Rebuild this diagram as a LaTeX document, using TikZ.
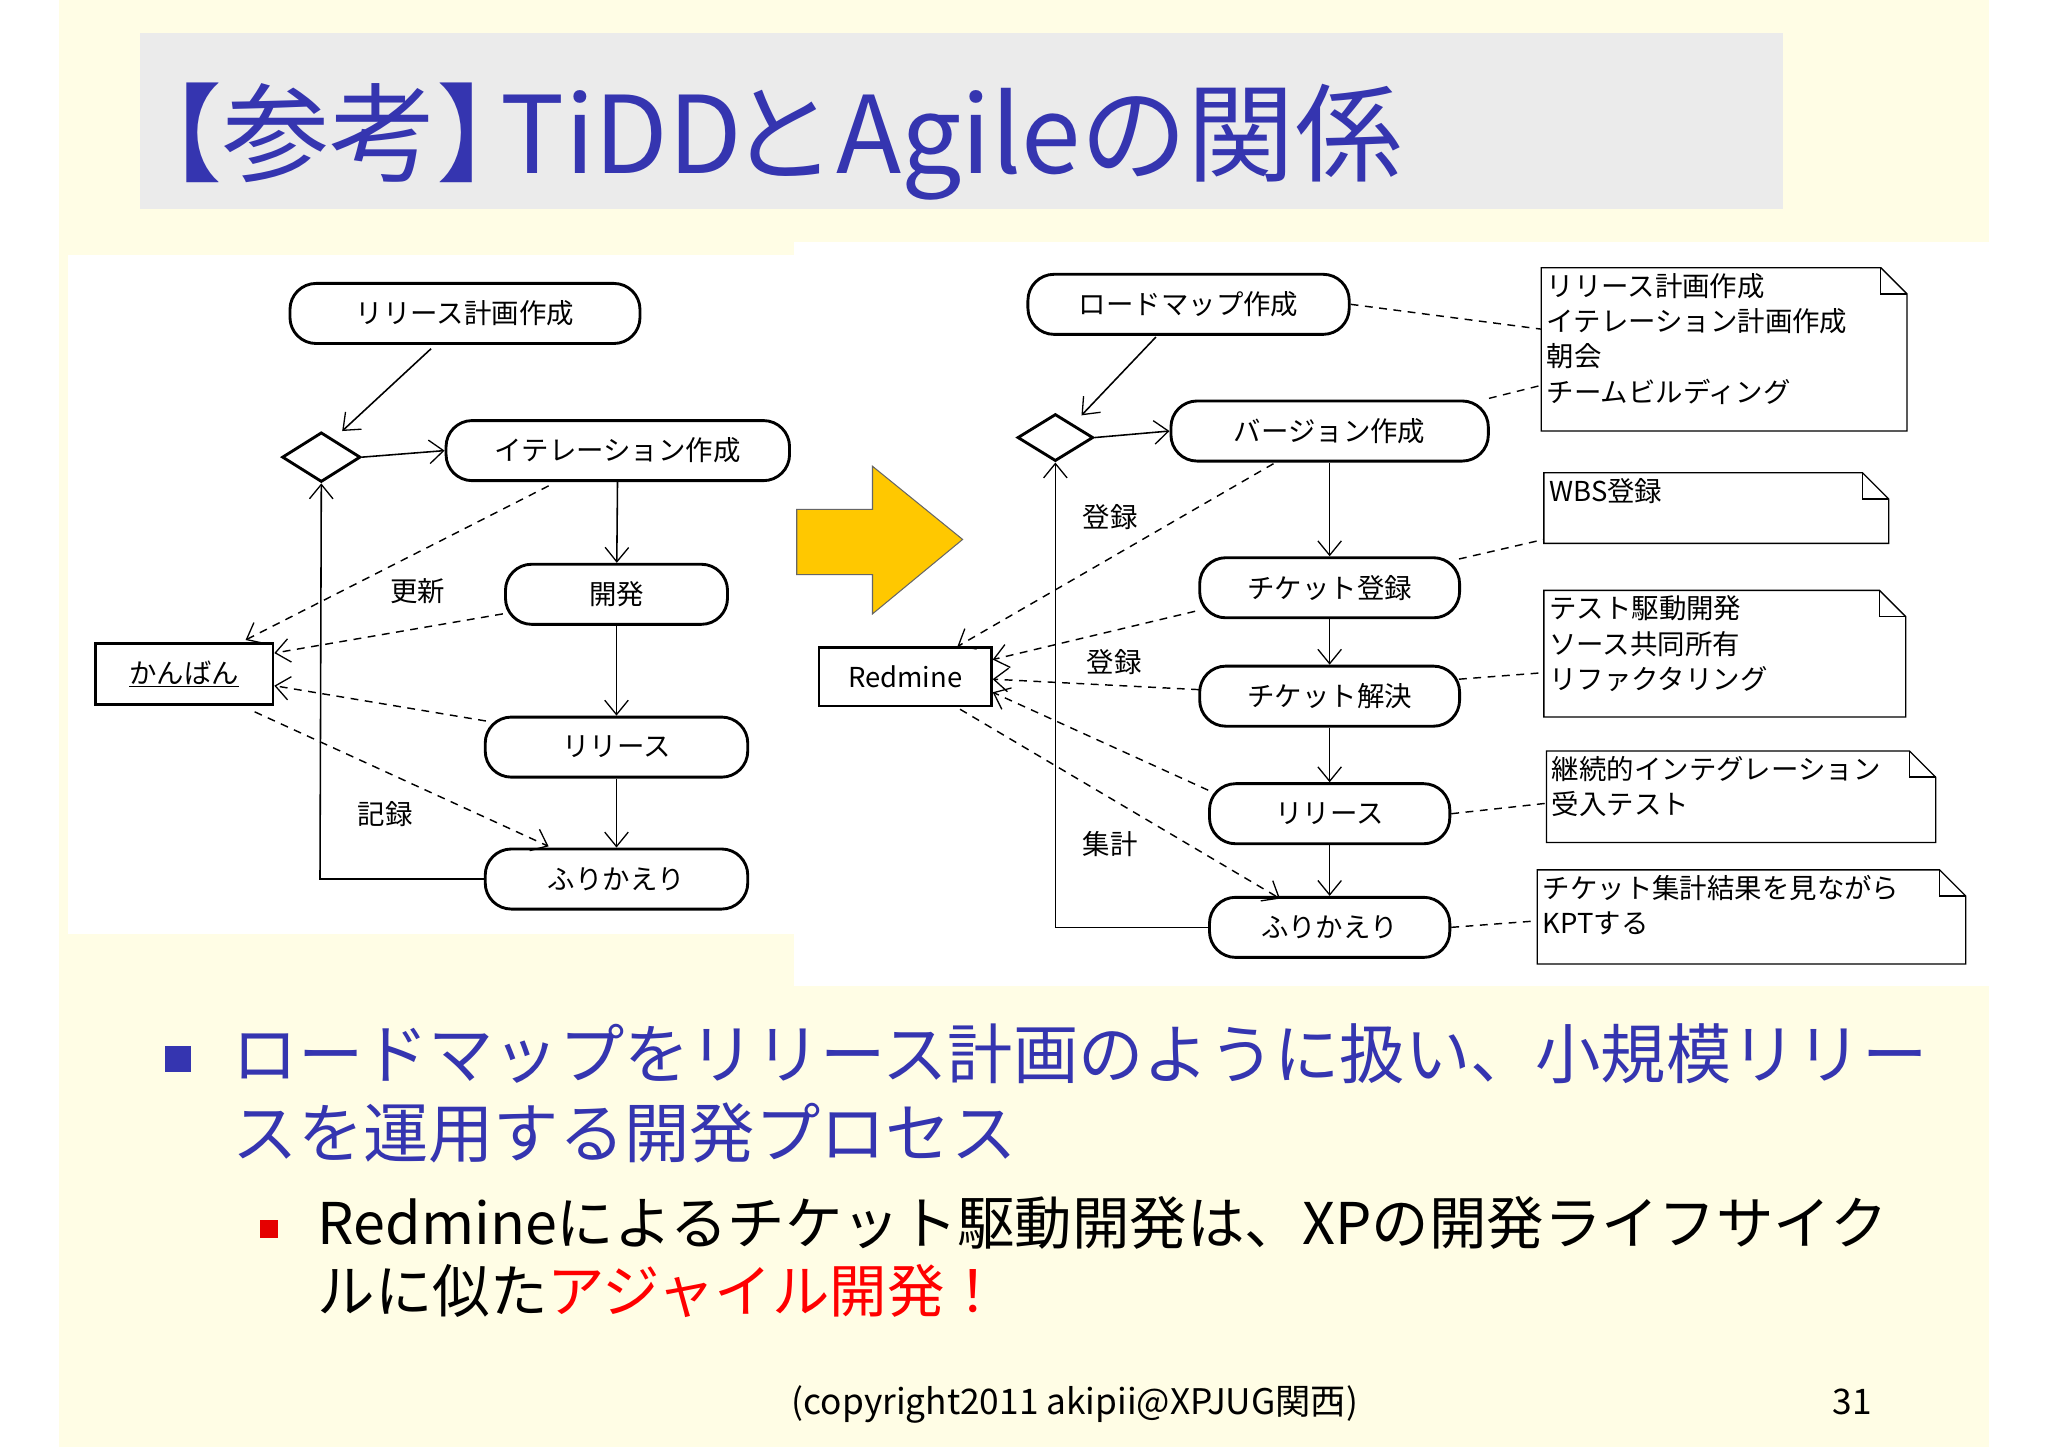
\documentclass[tikz,border=0pt]{standalone}
\usepackage{fontspec}
\setmainfont{Noto Sans CJK JP}
\usetikzlibrary{arrows.meta,shapes.geometric}
\definecolor{cream}{HTML}{FFFDE5}
\definecolor{ttl}{HTML}{3535B0}
\definecolor{ybox}{HTML}{FFC800}
\begin{document}
\begin{tikzpicture}[x=1pt,y=-1pt,
  act/.style={draw,line width=2.2pt,rounded corners=20pt,minimum height=46pt,font=\fontsize{21}{23}\selectfont,inner sep=0pt},
  dia/.style={draw,line width=2.2pt,diamond,aspect=1.6,minimum width=60pt,minimum height=38pt,inner sep=0pt},
  obj/.style={draw,line width=2.2pt,font=\fontsize{21}{23}\selectfont,inner sep=0pt},
  ar/.style={line width=1.2pt,-{Straight Barb[length=11pt,width=18pt,line width=1pt]}},
  da/.style={line width=1.1pt,dash pattern=on 6pt off 5pt,-{Straight Barb[length=11pt,width=18pt,line width=1pt]}},
  dl/.style={line width=1.1pt,dash pattern=on 6pt off 5pt},
  lbl/.style={font=\fontsize{21}{23}\selectfont},
  ntxt/.style={font=\fontsize{21}{27}\selectfont,align=left,anchor=north west,inner sep=0pt}]
\useasboundingbox (0,0) rectangle (1568,1108);
\fill[cream] (45,0) rectangle (1523,1108);
\fill[black!8] (107,25) rectangle (1365,160);
\node[anchor=base west,text=ttl,font=\fontsize{82}{90}\selectfont,inner sep=0pt] (title) at (88,133) {【参考】\kern-0.4em TiDD\kern-0.12emとAgileの関係};
\fill[white] (52,195) rectangle (608,715);
\fill[white] (608,185) rectangle (1523,755);
% yellow arrow
\draw[fill=ybox,draw=black!60,line width=0.8pt] (610,390)--(668,390)--(668,357)--(737,413)--(668,470)--(668,440)--(610,440)--cycle;
% left diagram
\node[act,minimum width=268pt] (lp) at (356,240) {リリース計画作成};
\node[dia] (ld) at (246,350) {};
\node[act,minimum width=263pt] (li) at (473,345) {イテレーション作成};
\node[act,minimum width=170pt] (lk) at (472,455) {開発};
\node[act,minimum width=201pt] (lr) at (472,572) {リリース};
\node[act,minimum width=201pt] (lf) at (472,673) {ふりかえり};
\node[obj,minimum width=136pt,minimum height=47pt] (kb) at (141,516) {\underline{かんばん}};
\draw[ar] (330,267) -- (262,330);
\draw[ar] (ld.east) -- (li.west);
\draw[ar] (li) -- (lk);
\draw[ar] (lk) -- (lr);
\draw[ar] (lr) -- (lf);
\draw[ar] (lf.west) -- (245,673) -- (ld.south);
\draw[da] (420,372) -- (188,490);
\draw[da] (385,470) -- (210,500);
\draw[da] (372,552) -- (210,525);
\draw[da] (195,545) -- (420,648);
\node[lbl] (l1) at (320,453) {更新};
\node[lbl] (l2) at (295,623) {記録};
% right diagram
\node[act,minimum width=246pt] (rm) at (910,233) {ロードマップ作成};
\node[dia,minimum width=58pt,minimum height=36pt] (rd) at (808,335) {};
\node[act,minimum width=243pt] (rv) at (1018,330) {バージョン作成};
\node[act,minimum width=199pt] (rt) at (1018,450) {チケット登録};
\node[act,minimum width=199pt] (rs) at (1018,533) {チケット解決};
\node[act,minimum width=184pt] (rr) at (1018,623) {リリース};
\node[act,minimum width=184pt] (rf) at (1018,710) {ふりかえり};
\node[obj,minimum width=132pt,minimum height=45pt] (rb) at (693,518) {Redmine};
\draw[ar] (885,258) -- (828,318);
\draw[ar] (rd.east) -- (rv.west);
\draw[ar] (rv) -- (rt);
\draw[ar] (rt) -- (rs);
\draw[ar] (rs) -- (rr);
\draw[ar] (rr) -- (rf);
\draw[ar] (rf.west) -- (808,710) -- (rd.south);
\draw[da] (975,355) -- (733,495);
\draw[da] (915,468) -- (760,505);
\draw[da] (918,528) -- (760,520);
\draw[da] (925,605) -- (760,530);
\draw[da] (735,543) -- (980,688);
\node[lbl] (r1) at (850,396) {登録};
\node[lbl] (r2) at (853,507) {登録};
\node[lbl] (r3) at (850,646) {集計};
% notes
\newcommand{\mynote}[6]{%
 \draw[line width=1pt,fill=white] (#2,#3) -- (#4-20,#3) -- (#4,#3+20) -- (#4,#5) -- (#2,#5) -- cycle;
 \draw[line width=1pt] (#4-20,#3) -- (#4-20,#3+20) -- (#4,#3+20);
 \node[ntxt] (#1) at (#2+4,#3+4) {#6};}
\mynote{n1}{1180}{205}{1460}{330}{リリース計画作成\\イテレーション計画作成\\朝会\\チームビルディング}
\mynote{n2}{1182}{362}{1446}{416}{WBS登録}
\mynote{n3}{1182}{452}{1459}{549}{テスト駆動開発\\ソース共同所有\\リファクタリング}
\mynote{n4}{1184}{575}{1482}{645}{継続的インテグレーション\\受入テスト}
\mynote{n5}{1177}{666}{1505}{738}{チケット集計結果を見ながら\\KPTする}
\draw[dl] (rm.east) -- (1180,252);
\draw[dl] (1140,305) -- (1180,295);
\draw[dl] (1117,428) -- (1182,413);
\draw[dl] (1117,520) -- (1182,515);
\draw[dl] (rr.east) -- (1184,615);
\draw[dl] (rf.east) -- (1177,705);
% bullets
\fill[ttl] (126,801) rectangle (146,821);
\node[anchor=base west,inner sep=0pt,text=ttl,font=\fontsize{50}{56}\selectfont] (b1) at (178,826) {ロードマップをリリース計画のように扱い、小規模リリー};
\node[anchor=base west,inner sep=0pt,text=ttl,font=\fontsize{50}{56}\selectfont] (b2) at (178,886) {スを運用する開発プロセス};
\fill[red!90!black] (199,934) rectangle (213,948);
\node[anchor=base west,inner sep=0pt,font=\fontsize{44}{50}\selectfont] (s1) at (243,953) {Redmineによるチケット駆動開発は、XPの開発ライフサイク};
\node[anchor=base west,inner sep=0pt,font=\fontsize{44}{50}\selectfont] (s2) at (243,1005) {ルに似た\textcolor{red}{アジャイル開発！}};
\node[anchor=base,inner sep=0pt,font=\fontsize{27}{30}\selectfont] (cp) at (823,1083) {(copyright2011 akipii@XPJUG関西)};
\node[anchor=base,inner sep=0pt,font=\fontsize{27}{30}\selectfont] (pg) at (1418,1083) {31};
\end{tikzpicture}
\end{document}
